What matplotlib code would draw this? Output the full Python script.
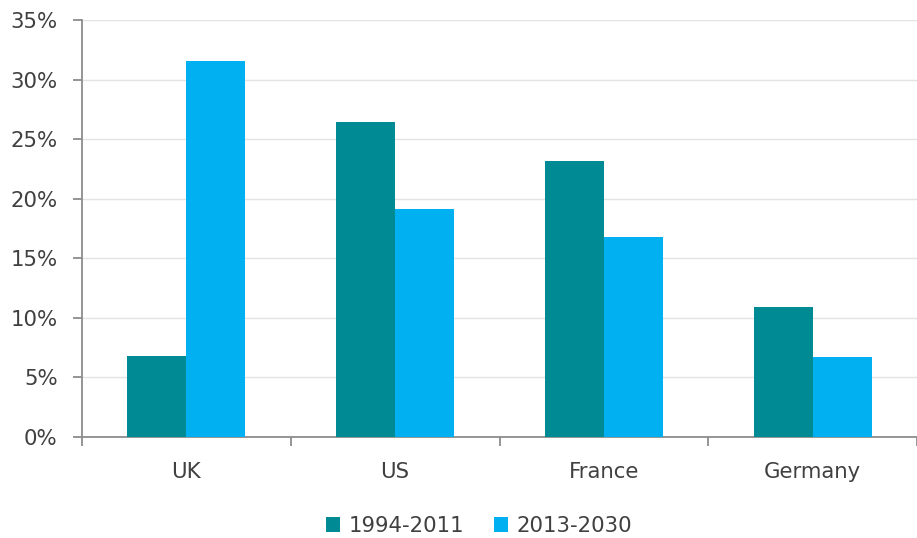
import matplotlib.pyplot as plt
import numpy as np
from matplotlib.ticker import FuncFormatter

countries = ["UK", "US", "France", "Germany"]
period_1 = [6.8, 26.4, 23.2, 10.9]   # 1994-2011
period_2 = [31.6, 19.1, 16.8, 6.7]   # 2013-2030
labels = ["1994-2011", "2013-2030"]

teal = "#008A94"
blue = "#00B0F0"
txt = "#404040"

plt.rcParams["font.family"] = "DejaVu Sans"
plt.rcParams["font.size"] = 15.3

fig = plt.figure(figsize=(9.17, 5.38), dpi=100)
ax = fig.add_axes([82 / 917, 1 - 437 / 538, (917 - 82) / 917, (437 - 20) / 538])

x = np.arange(len(countries))
w = 0.283
ax.bar(x - w / 2, period_1, w, color=teal, label=labels[0], zorder=3)
ax.bar(x + w / 2, period_2, w, color=blue, label=labels[1], zorder=3)

ax.set_ylim(0, 35)
ax.set_xlim(-0.5, 3.465)
ax.set_yticks(range(0, 36, 5))
ax.yaxis.set_major_formatter(FuncFormatter(lambda v, p: f"{v:.0f}%"))
ax.set_xticks(x)
ax.set_xticklabels(countries)
ax.set_xticks(np.arange(-0.5, 4, 1), minor=True)

ax.grid(axis="y", color="#e3e3e3", linewidth=1, zorder=0)
for s in ["top", "right"]:
    ax.spines[s].set_visible(False)
for s in ["left", "bottom"]:
    ax.spines[s].set_color("#8c8c8c")
    ax.spines[s].set_linewidth(1.3)

ax.tick_params(axis="y", colors="#8c8c8c", labelcolor=txt, length=6.5, width=1.3, pad=11)
ax.tick_params(axis="x", which="major", length=0, labelcolor=txt, pad=18)
ax.tick_params(axis="x", which="minor", colors="#8c8c8c", length=6.5, width=1.3)

leg = fig.legend(loc="center", bbox_to_anchor=(479 / 917, 1 - 526 / 538), ncol=2, frameon=False,
                 handlelength=0.65, handleheight=0.65, handletextpad=0.4, columnspacing=1.4,
                 borderpad=0)
for t in leg.get_texts():
    t.set_color(txt)

fig.savefig("out.png", dpi=100)
